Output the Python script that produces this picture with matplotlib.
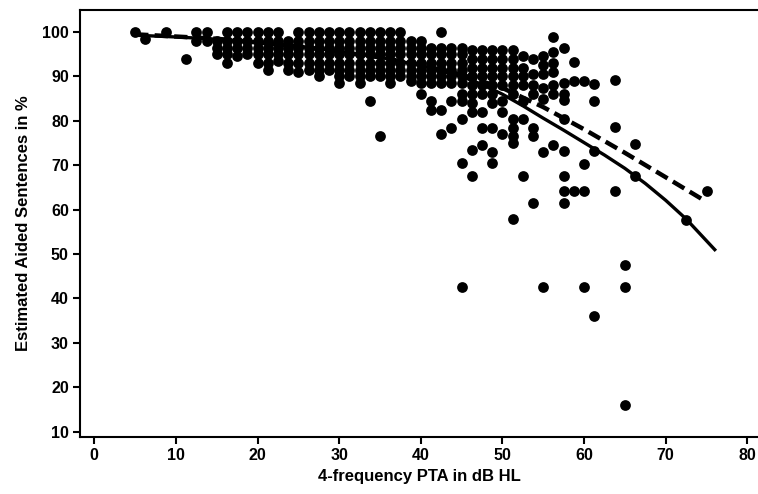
import numpy as np
import matplotlib.pyplot as plt

# scatter data, grouped by 4-frequency PTA column (dB HL) -> aided sentence scores (%)
columns = {
    5.0: [100],
    6.25: [98.5],
    8.75: [100],
    11.25: [94],
    12.5: [100, 98],
    13.75: [100, 98],
    15.0: [98, 96.5, 95],
    16.25: [100, 98, 96.5, 95, 93],
    17.5: [100, 98, 96.5, 94.5],
    18.75: [100, 98, 96.5, 95],
    20.0: [100, 98, 96.5, 95, 93],
    21.25: [100, 98, 96.5, 95, 93, 91.5],
    22.5: [100, 98, 96.5, 95, 93.5],
    23.75: [98, 96.5, 95, 93, 91.5],
    25.0: [100, 98, 96.5, 95, 93, 91],
    26.25: [100, 98, 96.5, 95, 93, 91.5],
    27.5: [100, 98, 96.5, 95, 93, 91.5, 90],
    28.75: [100, 98, 96.5, 95, 93, 91.5],
    30.0: [100, 98, 96.5, 95, 93, 91.5, 90, 88.5],
    31.25: [100, 98, 96.5, 95, 93, 91.5, 90],
    32.5: [100, 98, 96.5, 95, 93, 91.5, 90, 88.5],
    33.75: [100, 98, 96.5, 95, 93, 91.5, 90, 84.5],
    35.0: [100, 98, 96.5, 95, 93, 91.5, 90, 76.5],
    36.25: [100, 98, 96.5, 95, 93, 91.5, 90, 88.5],
    37.5: [100, 98, 96.5, 95, 93, 91.5, 90],
    38.75: [98, 96.5, 95, 93, 91.5, 90, 89],
    40.0: [98, 96.5, 95, 93, 91.5, 90, 88.5, 86],
    41.25: [96.5, 95, 93, 91.5, 90, 88.5, 84.5, 82.5],
    42.5: [100, 96.5, 95, 93, 91.5, 90, 88.5, 82.5, 77],
    43.75: [96.5, 95, 93, 91.5, 90, 88.5, 84.5, 78.5],
    45.0: [96.5, 95, 93, 91.5, 90, 88.5, 86, 84.5, 80.5, 70.5, 42.5],
    46.25: [96, 94, 92, 90, 88, 86, 84, 82, 73.5, 67.5],
    47.5: [96, 94, 92, 90, 88, 86, 82, 78.5, 74.5],
    48.75: [96, 94, 92, 90, 88, 86, 84, 78.5, 73, 70.5],
    50.0: [96, 94, 92, 90, 88, 84.5, 82, 77],
    51.25: [96, 94, 92, 90, 88, 86, 80.5, 78.5, 76.5, 75, 58],
    52.5: [94.5, 92, 90, 88, 84.5, 80.5, 67.5],
    53.75: [94, 90.5, 88, 86, 78.5, 76.5, 61.5],
    55.0: [94.5, 92.5, 90.5, 87.5, 85, 73, 42.5],
    56.25: [99, 95.5, 93, 91, 88, 86, 74.5],
    57.5: [96.5, 88.5, 86, 84.7, 80.5, 73.3, 67.5, 64.2, 61.6],
    58.75: [93.2, 89, 64.2],
    60.0: [89, 70.3, 64.2, 42.5],
    61.25: [88.3, 84.5, 73.3, 36],
    63.75: [89.2, 78.7, 64.2],
    65.0: [47.5, 42.5, 16],
    66.25: [74.8, 67.5],
    72.5: [57.7],
    75.0: [64.2],
}

# fitted curves
solid_x = [5, 10, 15, 20, 25, 30, 35, 40, 45, 47.5, 50, 52.5, 55, 57.5, 60, 62.5, 65, 67.5, 70, 72.5, 76]
solid_y = [99.3, 98.9, 98.4, 97.7, 96.8, 95.7, 94.3, 92.5, 90, 88.2, 86, 83.4, 80.6, 77.9, 75.1, 72.3, 69.3, 65.9, 62.1, 57.9, 51]
dash_x = [5, 15, 25, 35, 40, 45, 50, 55, 60, 65, 70, 74.6]
dash_y = [99.5, 98.5, 96.8, 94.3, 92.6, 90.4, 87.4, 83.1, 78.1, 72.8, 67.3, 62.2]

x_ticks = [0, 10, 20, 30, 40, 50, 60, 70, 80]
y_ticks = [10, 20, 30, 40, 50, 60, 70, 80, 90, 100]

xs = []
ys = []
for k in columns:
    for v in columns[k]:
        xs.append(k)
        ys.append(v)

plt.rcParams['font.family'] = ['Liberation Sans', 'DejaVu Sans']
plt.rcParams['font.weight'] = 'bold'

fig = plt.figure(figsize=(7.58, 4.94), dpi=100)
ax = fig.add_axes([0.1055, 0.1154, 0.8945, 0.8646])

ax.scatter(xs, ys, s=60, color='black', zorder=3, linewidths=0)
ax.plot(solid_x, solid_y, color='black', lw=2.4, zorder=4, solid_joinstyle='round')
ax.plot(dash_x, dash_y, color='black', lw=3.2, dashes=(3, 1.4), zorder=4)

ax.set_xlim(-1.75, 81.3)
ax.set_ylim(8.8, 105)
ax.set_xticks(x_ticks)
ax.set_yticks(y_ticks)
ax.tick_params(direction='out', length=5, width=1.5, labelsize=11.5, pad=3)
for sp in ['left', 'bottom', 'top']:
    ax.spines[sp].set_linewidth(1.5)
ax.spines['right'].set_visible(False)

ax.set_xlabel('4-frequency PTA in dB HL', fontsize=12, fontweight='bold', labelpad=4)
ax.set_ylabel('Estimated Aided Sentences in %', fontsize=12, fontweight='bold', labelpad=8)

fig.savefig('out.png', dpi=100)
